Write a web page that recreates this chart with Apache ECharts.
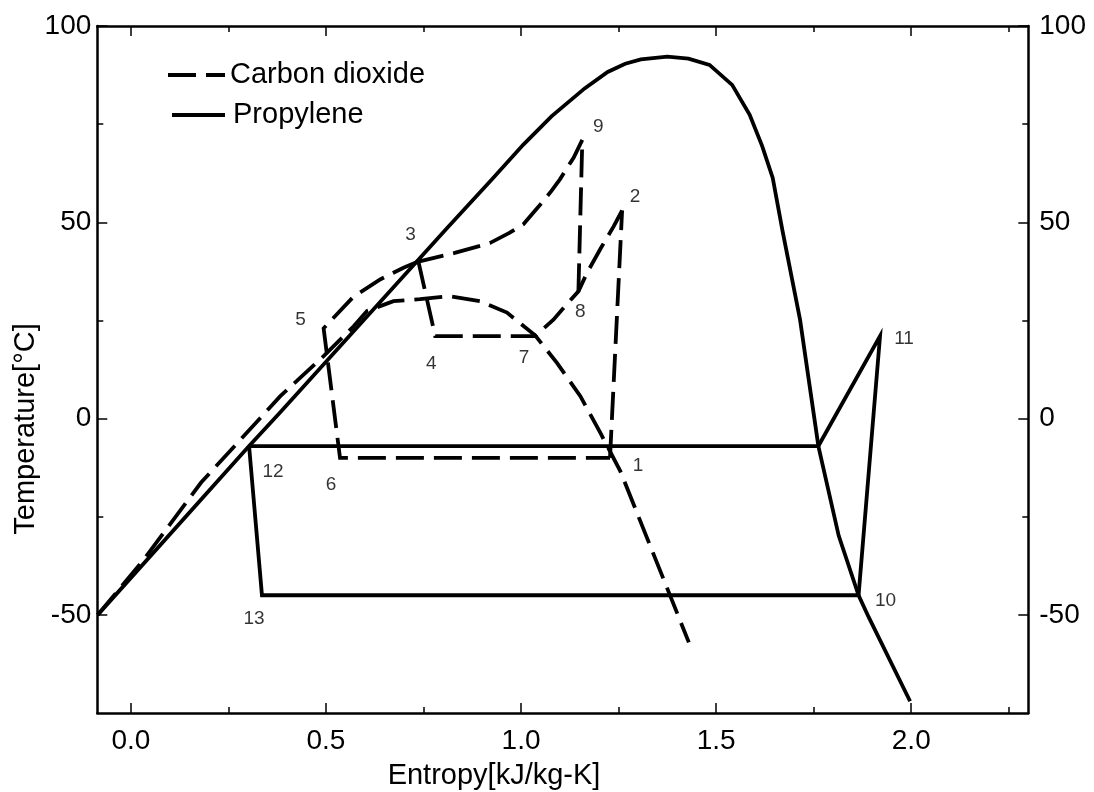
<!DOCTYPE html>
<html><head><meta charset="utf-8">
<script src="https://cdn.jsdelivr.net/npm/echarts@6/dist/echarts.min.js"></script>
<style>html,body{margin:0;padding:0;background:#fff}#c{width:1094px;height:792px}</style>
</head><body><div id="c"></div>
<script>
// ---------------- DATA ----------------
const xMajorTicks = [0, 0.5, 1.0, 1.5, 2.0];
const xMinorTicks = [0.25, 0.75, 1.25, 1.75, 2.25];
const yMajorTicks = [-50, 0, 50, 100];
const yMinorTicks = [-25, 25, 75];

// Propylene saturation dome (s, T)
const propyleneDome = [[-0.085,-50],[0.303,-7],[0.383,1.6],[0.81,48.5],[0.925,60.9],[1.006,69.8],[1.078,77.0],[1.163,84.1],[1.222,88.3],[1.267,90.4],[1.307,91.5],[1.375,92.2],[1.429,91.7],[1.483,90.1],[1.541,85.0],[1.586,77.4],[1.618,69.4],[1.645,61.3],[1.670,47.9],[1.715,25.2],[1.762,-7],[1.814,-29.8],[1.865,-45],[1.891,-50.6],[1.997,-72]];
// Propylene cycle 12 -> evap -> 11 -> 10 -> 13 -> 12
const propyleneCycle = [[0.303,-7],[1.762,-7],[1.920,21],[1.865,-45],[0.336,-45],[0.303,-7]];

// Carbon dioxide saturation dome
const co2Dome = [[-0.085,-50],[0.03,-36.3],[0.18,-16.3],[0.30,-3.3],[0.383,5.7],[0.494,15.9],[0.571,23.5],[0.605,27.4],[0.673,29.9],[0.741,30.4],[0.814,31.2],[0.895,29.9],[0.964,27.0],[1.036,21.2],[1.092,14.2],[1.152,5.7],[1.203,-3.6],[1.254,-13.3],[1.43,-57]];
// Carbon dioxide cycle paths
const co2Path1to2 = [[1.228,-10],[1.259,53]];
const co2Path2to7 = [[1.259,53],[1.237,48.9],[1.205,43.5],[1.169,37.1],[1.147,32.4],[1.117,29.1],[1.083,25.2],[1.036,21]];
const co2Path8to9 = [[1.147,32.4],[1.157,71]];
const co2Path9to3 = [[1.157,71],[1.135,66.5],[1.10,61],[1.078,58],[1.045,54],[1.006,49.5],[0.97,47.3],[0.92,44.7],[0.83,42.2],[0.737,40]];
const co2Path3to7 = [[0.737,40],[0.78,21],[1.036,21]];
const co2Path3to1 = [[0.737,40],[0.70,38.5],[0.64,35.5],[0.57,31],[0.494,23],[0.536,-10],[1.228,-10]];

// State point labels
const stateNames = ['1','2','3','4','5','6','7','8','9','10','11','12','13'];
const statePoints = [[1.228,-10],[1.259,53],[0.737,40],[0.78,21],[0.494,23],[0.536,-10],[1.036,21],[1.147,32.4],[1.157,71],[1.865,-45],[1.920,21],[0.303,-7],[0.336,-45]];

// Legend entries
const legendNames = ['Carbon dioxide', 'Propylene'];

// ---------------- STYLE ----------------
const labelOffsets = [[28,8],[13,-14],[-8,-27],[-4,28],[-23,-9],[-9,27],[-11,22],[2,20],[16,-13],[27,6],[24,3],[24,26],[-8,24]];
const FONT = 'Liberation Sans, Arial, Helvetica, sans-serif';
const LW = 3.8;
const DASH = [28, 10];
const X_MIN = -0.086, X_MAX = 2.3, Y_MIN = -75, Y_MAX = 100;

function xAx(pos, ticks, len, withLabels, showLine) {
  return {
    type: 'value', position: pos, min: X_MIN, max: X_MAX,
    axisLine: {show: showLine, onZero: false, lineStyle: {color: '#000', width: 2.5}},
    axisTick: {show: true, inside: true, length: len, customValues: ticks, lineStyle: {color: '#000', width: 1.5}},
    axisLabel: withLabels ? {show: true, customValues: ticks, formatter: v => v.toFixed(1), color: '#000', fontSize: 28, fontFamily: FONT, margin: 14} : {show: false},
    splitLine: {show: false}
  };
}
function yAx(pos, ticks, len, withLabels, showLine, margin) {
  return {
    type: 'value', position: pos, min: Y_MIN, max: Y_MAX,
    axisLine: {show: showLine, onZero: false, lineStyle: {color: '#000', width: 2.5}},
    axisTick: {show: true, inside: true, length: len, customValues: ticks, lineStyle: {color: '#000', width: 1.5}},
    axisLabel: withLabels ? {show: true, customValues: ticks, formatter: v => String(v), color: '#000', fontSize: 28, fontFamily: FONT, margin: margin} : {show: false},
    splitLine: {show: false}
  };
}

function lineSeries(name, data, dashed) {
  return {
    name: name, type: 'line', data: data, xAxisIndex: 0, yAxisIndex: 0,
    symbol: 'none', smooth: false, silent: true, animation: false,
    lineStyle: {color: '#000', width: LW, type: dashed ? DASH : 'solid', cap: 'butt', join: 'miter'},
    itemStyle: {color: '#000'}
  };
}

const CO2 = legendNames[0], PROP = legendNames[1];
const series = [
  lineSeries(CO2, co2Dome, true),
  lineSeries(CO2, co2Path1to2, true),
  lineSeries(CO2, co2Path2to7, true),
  lineSeries(CO2, co2Path8to9, true),
  lineSeries(CO2, co2Path9to3, true),
  lineSeries(CO2, co2Path3to7, true),
  lineSeries(CO2, co2Path3to1, true),
  lineSeries(PROP, propyleneDome, false),
  lineSeries(PROP, propyleneCycle, false),
  {
    type: 'scatter', xAxisIndex: 0, yAxisIndex: 0, symbolSize: 0, silent: true, animation: false,
    data: statePoints.map((p, i) => ({name: stateNames[i], value: p, label: {offset: labelOffsets[i]}})),
    label: {show: true, position: 'inside', formatter: p => p.name, color: '#000', fontSize: 19, fontFamily: FONT, align: 'center', verticalAlign: 'middle'}
  }
];

const chart = echarts.init(document.getElementById('c'), null, {renderer: 'canvas'});
chart.setOption({
  backgroundColor: '#fff',
  animation: false,
  grid: {left: 97.3, right: 65.7, top: 26, bottom: 79, containLabel: false},
  xAxis: [
    xAx('bottom', xMajorTicks, 10, true, true),
    xAx('bottom', xMinorTicks, 6, false, false),
    xAx('top', xMajorTicks, 10, false, true),
    xAx('top', xMinorTicks, 6, false, false)
  ],
  yAxis: [
    yAx('left', yMajorTicks, 10, true, true, 6),
    yAx('left', yMinorTicks, 6, false, false, 6),
    yAx('right', yMajorTicks, 10, true, true, 11),
    yAx('right', yMinorTicks, 6, false, false, 11)
  ],
  graphic: [
    // legend
    {type: 'line', shape: {x1: 168, y1: 75, x2: 225, y2: 75}, style: {stroke: '#000', lineWidth: LW, lineDash: DASH}},
    {type: 'text', x: 230, y: 75, style: {text: legendNames[0], font: '29px ' + FONT, fill: '#000', textAlign: 'left', textVerticalAlign: 'middle'}},
    {type: 'line', shape: {x1: 172, y1: 115, x2: 225, y2: 115}, style: {stroke: '#000', lineWidth: LW}},
    {type: 'text', x: 233, y: 115, style: {text: legendNames[1], font: '29px ' + FONT, fill: '#000', textAlign: 'left', textVerticalAlign: 'middle'}},
    // axis titles
    {type: 'text', x: 494, y: 776, style: {text: 'Entropy[kJ/kg-K]', font: '29px ' + FONT, fill: '#000', textAlign: 'center', textVerticalAlign: 'middle'}},
    {type: 'text', x: 26, y: 429, rotation: Math.PI / 2, style: {text: 'Temperature[°C]', font: '29px ' + FONT, fill: '#000', textAlign: 'center', textVerticalAlign: 'middle'}}
  ],
  series: series
});
</script></body></html>
